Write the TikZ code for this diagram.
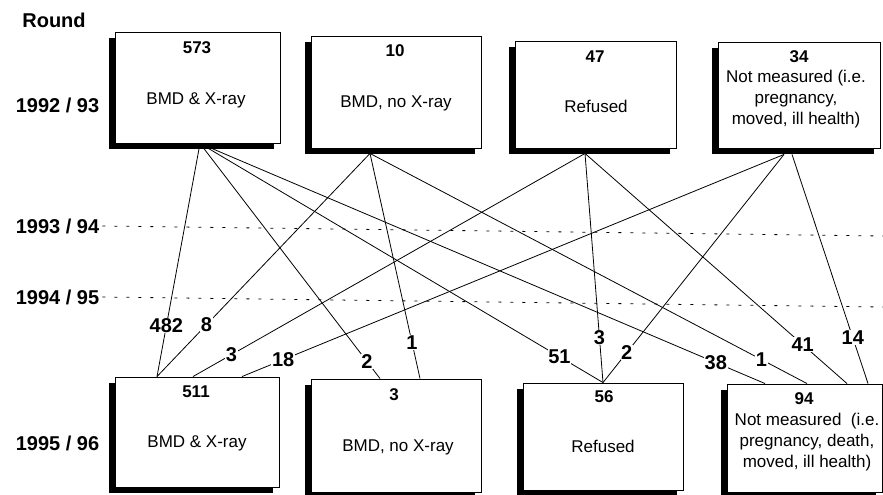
\documentclass[tikz,border=0pt]{standalone}
\usepackage{fontspec}
\setmainfont{Liberation Sans}
\usetikzlibrary{shadows,calc}
\tikzset{
 box/.style={draw=black, line width=0.9pt, fill=white, rectangle, inner sep=0pt,
   drop shadow={shadow xshift=-6pt, shadow yshift=-6pt, fill=black, opacity=1}},
 num/.style={font=\fontsize{17}{20}\selectfont\bfseries, inner sep=0pt},
 txt/.style={font=\fontsize{17}{21}\selectfont, align=center, inner sep=0pt},
 yr/.style={font=\fontsize{20}{24}\selectfont\bfseries, inner sep=0pt},
 lbl/.style={font=\fontsize{20}{24}\selectfont\bfseries, fill=white, inner sep=0.6pt},
 conn/.style={line width=0.8pt},
 dashline/.style={line width=0.8pt, dash pattern=on 3pt off 9pt},
}
\begin{document}
\begin{tikzpicture}[x=1pt,y=-1pt]
\useasboundingbox (0,0) rectangle (883,495);
% year labels
\node[yr] (round) at (54,20) {Round};
\node[yr] (y93) at (57.5,105) {1992 / 93};
\node[yr] (y94) at (57.5,226) {1993 / 94};
\node[yr] (y95) at (57.5,297) {1994 / 95};
\node[yr] (y96) at (57.5,443) {1995 / 96};
\coordinate (d1e) at (883,236);
\coordinate (d2e) at (883,307);
\draw[dashline] ($(y94.east)+(3,0)$) -- (d1e);
\draw[dashline] ($(y95.east)+(3,0)$) -- (d2e);
% top boxes
\node[box, minimum width=165pt, minimum height=111pt] (t1) at (197.5,87.5) {};
\node[box, minimum width=170pt, minimum height=112pt] (t2) at (396,92) {};
\node[box, minimum width=161pt, minimum height=107pt] (t3) at (595.5,94.5) {};
\node[box, minimum width=162pt, minimum height=106pt] (t4) at (799,95) {};
% bottom boxes
\node[box, minimum width=164pt, minimum height=110pt] (b5) at (197,432) {};
\node[box, minimum width=170pt, minimum height=113pt] (b6) at (396,435.5) {};
\node[box, minimum width=160pt, minimum height=107pt] (b7) at (603,436.5) {};
\node[box, minimum width=155pt, minimum height=108pt] (b8) at (804.5,438) {};
% box texts
\node[num] (t1n) at (197,48) {573};
\node[txt] (t1t) at (196,100) {BMD \& X-ray};
\node[num] (t2n) at (395,51) {10};
\node[txt] (t2t) at (396,103) {BMD, no X-ray};
\node[num] (t3n) at (595,57) {47};
\node[txt] (t3t) at (596,106) {Refused};
\node[num] (t4n) at (799,57) {34};
\node[txt] (t4t) at (796,99) {Not measured (i.e.\\pregnancy,\\moved, ill health)};
\node[num] (b5n) at (196,392) {511};
\node[txt] (b5t) at (197,443) {BMD \& X-ray};
\node[num] (b6n) at (394,395) {3};
\node[txt] (b6t) at (398,447) {BMD, no X-ray};
\node[num] (b7n) at (604,397) {56};
\node[txt] (b7t) at (603,446) {Refused};
\node[num] (b8n) at (804,399) {94};
\node[txt] (b8t) at (807,442) {Not measured\ \ (i.e.\\pregnancy, death,\\moved, ill health)};
% connectors from 573
\draw[conn] ($(t1.south)+(2.5,0)$) -- node[lbl,pos=0.782] (l482) {482} ($(b5.north)+(-40,0)$);
\draw[conn] ($(t1.south)+(2.5,0)$) -- node[lbl,pos=0.928] (l2a) {2} ($(b6.north)+(-16,0)$);
\draw[conn] ($(t1.south)+(2.5,0)$) -- node[lbl,pos=0.892] (l51) {51} ($(b7.north)+(0,0)$);
\draw[conn] ($(t1.south)+(2.5,0)$) -- node[lbl,pos=0.913] (l38) {38} ($(b8.north)+(-39.5,0)$);
% connectors from 10
\draw[conn] ($(t2.south)+(-26,5)$) -- node[lbl,pos=0.768] (l8) {8} ($(b5.north)+(-40,0)$);
\draw[conn] ($(t2.south)+(-26,5)$) -- node[lbl,pos=0.84] (l1a) {1} ($(b6.north)+(24,0)$);
\draw[conn] ($(t2.south)+(-26,5)$) -- node[lbl,pos=0.896] (l1b) {1} ($(b8.north)+(2.5,0)$);
% connectors from 47
\draw[conn] ($(t3.south)+(-10.5,5)$) -- node[lbl,pos=0.902] (l3a) {3} ($(b5.north)+(-4,0)$);
\draw[conn] ($(t3.south)+(-10.5,5)$) -- node[lbl,pos=0.804] (l3b) {3} ($(b7.north)+(0,0)$);
\draw[conn] ($(t3.south)+(-10.5,5)$) -- node[lbl,pos=0.831] (l41) {41} ($(b8.north)+(42.5,0)$);
% connectors from 34
\draw[conn] ($(t4.south)+(-15,6)$) -- node[lbl,pos=0.924] (l18) {18} ($(b5.north)+(45,0)$);
\draw[conn] ($(t4.south)+(-15,6)$) -- node[lbl,pos=0.869] (l2b) {2} ($(b7.north)+(0,0)$);
\draw[conn] ($(t4.south)+(-7,6)$) -- node[lbl,pos=0.8] (l14) {14} ($(b8.north)+(63.5,0)$);
\end{tikzpicture}
\end{document}
